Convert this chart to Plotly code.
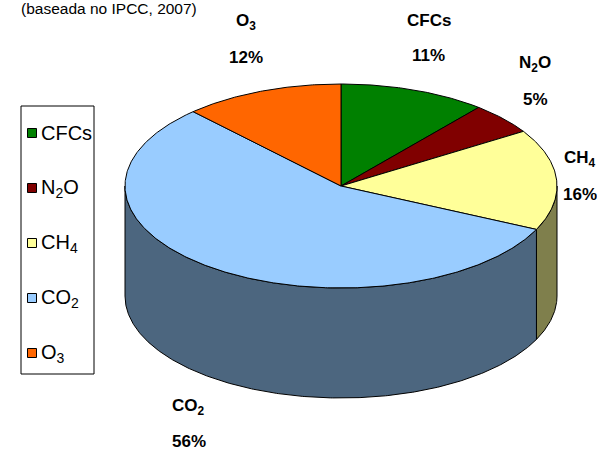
import numpy as np
import plotly.graph_objects as go

# ---- data ----
categories = ["CFCs", "N<sub>2</sub>O", "CH<sub>4</sub>", "CO<sub>2</sub>", "O<sub>3</sub>"]
values = [11, 5, 16, 56, 12]
colors = ["#008000", "#800000", "#FFFF99", "#99CCFF", "#FF6600"]
title_text = "(baseada no IPCC, 2007)"

# ---- layout / geometry (pixel-like coordinates) ----
W, H = 597, 454
CX, CY = 341, 186          # centre of pie top face
RX, RY = 216, 102          # ellipse radii of top face
DEPTH = 110                # wall height
FONT = "Liberation Sans, Arial, sans-serif"


def darker(hexc, f=0.5):
    h = hexc.lstrip("#")
    r, g, b = (int(h[i:i + 2], 16) for i in (0, 2, 4))
    return "#%02X%02X%02X" % (int(r * f), int(g * f), int(b * f))


def rim(theta_deg, drop=0.0):
    t = np.radians(theta_deg)
    return CX + RX * np.sin(t), CY - RY * np.cos(t) + drop


total = float(sum(values))
bounds = np.concatenate([[0.0], np.cumsum(values) / total * 360.0])

fig = go.Figure()

# side walls (only the front half, 90..270 deg clockwise from top)
for i, c in enumerate(colors):
    a0, a1 = bounds[i], bounds[i + 1]
    lo, hi = max(a0, 90.0), min(a1, 270.0)
    if lo >= hi:
        continue
    th = np.linspace(lo, hi, max(int(hi - lo) * 2, 4))
    tx, ty = rim(th)
    bx, by = rim(th[::-1], DEPTH)
    xs = np.concatenate([tx, bx, tx[:1]])
    ys = np.concatenate([ty, by, ty[:1]])
    fig.add_trace(go.Scatter(x=xs, y=ys, mode="lines", fill="toself",
                             fillcolor=darker(c), line=dict(color="black", width=1),
                             hoverinfo="skip", showlegend=False))

# top faces
for i, c in enumerate(colors):
    a0, a1 = bounds[i], bounds[i + 1]
    th = np.linspace(a0, a1, max(int(a1 - a0) * 2, 4))
    ax, ay = rim(th)
    xs = np.concatenate([[CX], ax, [CX]])
    ys = np.concatenate([[CY], ay, [CY]])
    fig.add_trace(go.Scatter(x=xs, y=ys, mode="lines", fill="toself",
                             fillcolor=c, line=dict(color="black", width=1),
                             hoverinfo="skip", showlegend=False))

annotations = []
# slice labels
for i, name in enumerate(categories):
    mid = (bounds[i] + bounds[i + 1]) / 2.0
    t = np.radians(mid)
    lx = min(CX + 1.2 * RX * np.sin(t), W - 17)
    ly = CY - 1.55 * RY * np.cos(t) + (DEPTH if np.cos(t) < 0 else 0)
    annotations.append(dict(x=lx, y=ly - 17, text="<b>%s</b>" % name, showarrow=False,
                            xanchor="center", yanchor="middle",
                            font=dict(family=FONT, size=17, color="black")))
    annotations.append(dict(x=lx, y=ly + 18, text="<b>%d%%</b>" % values[i], showarrow=False,
                            xanchor="center", yanchor="middle",
                            font=dict(family=FONT, size=17, color="black")))

# legend (drawn manually to match the boxed layout)
shapes = [dict(type="rect", x0=21, x1=94, y0=106, y1=374, xref="x", yref="y",
               line=dict(color="black", width=1), fillcolor="white", layer="below")]
LEG_Y0, LEG_STEP = 133, 55
for i, name in enumerate(categories):
    yy = LEG_Y0 + i * LEG_STEP
    shapes.append(dict(type="rect", x0=27.5, x1=36.5, y0=yy - 4.5, y1=yy + 4.5,
                       xref="x", yref="y", fillcolor=colors[i],
                       line=dict(color="black", width=1)))
    annotations.append(dict(x=39, y=yy, text=name, showarrow=False,
                            xanchor="left", yanchor="middle",
                            font=dict(family=FONT, size=20, color="black")))

# title at the top edge
annotations.append(dict(x=19, y=8, text=title_text, showarrow=False,
                        xanchor="left", yanchor="middle",
                        font=dict(family=FONT, size=15.5, color="black")))

fig.update_layout(
    width=W, height=H,
    margin=dict(l=0, r=0, t=0, b=0),
    paper_bgcolor="white", plot_bgcolor="white",
    xaxis=dict(range=[0, W], visible=False, fixedrange=True),
    yaxis=dict(range=[H, 0], visible=False, fixedrange=True),
    showlegend=False,
    shapes=shapes,
    annotations=annotations,
)

fig.write_html("out.html", config={"displayModeBar": False},
               post_script="document.body.style.margin='0';")
